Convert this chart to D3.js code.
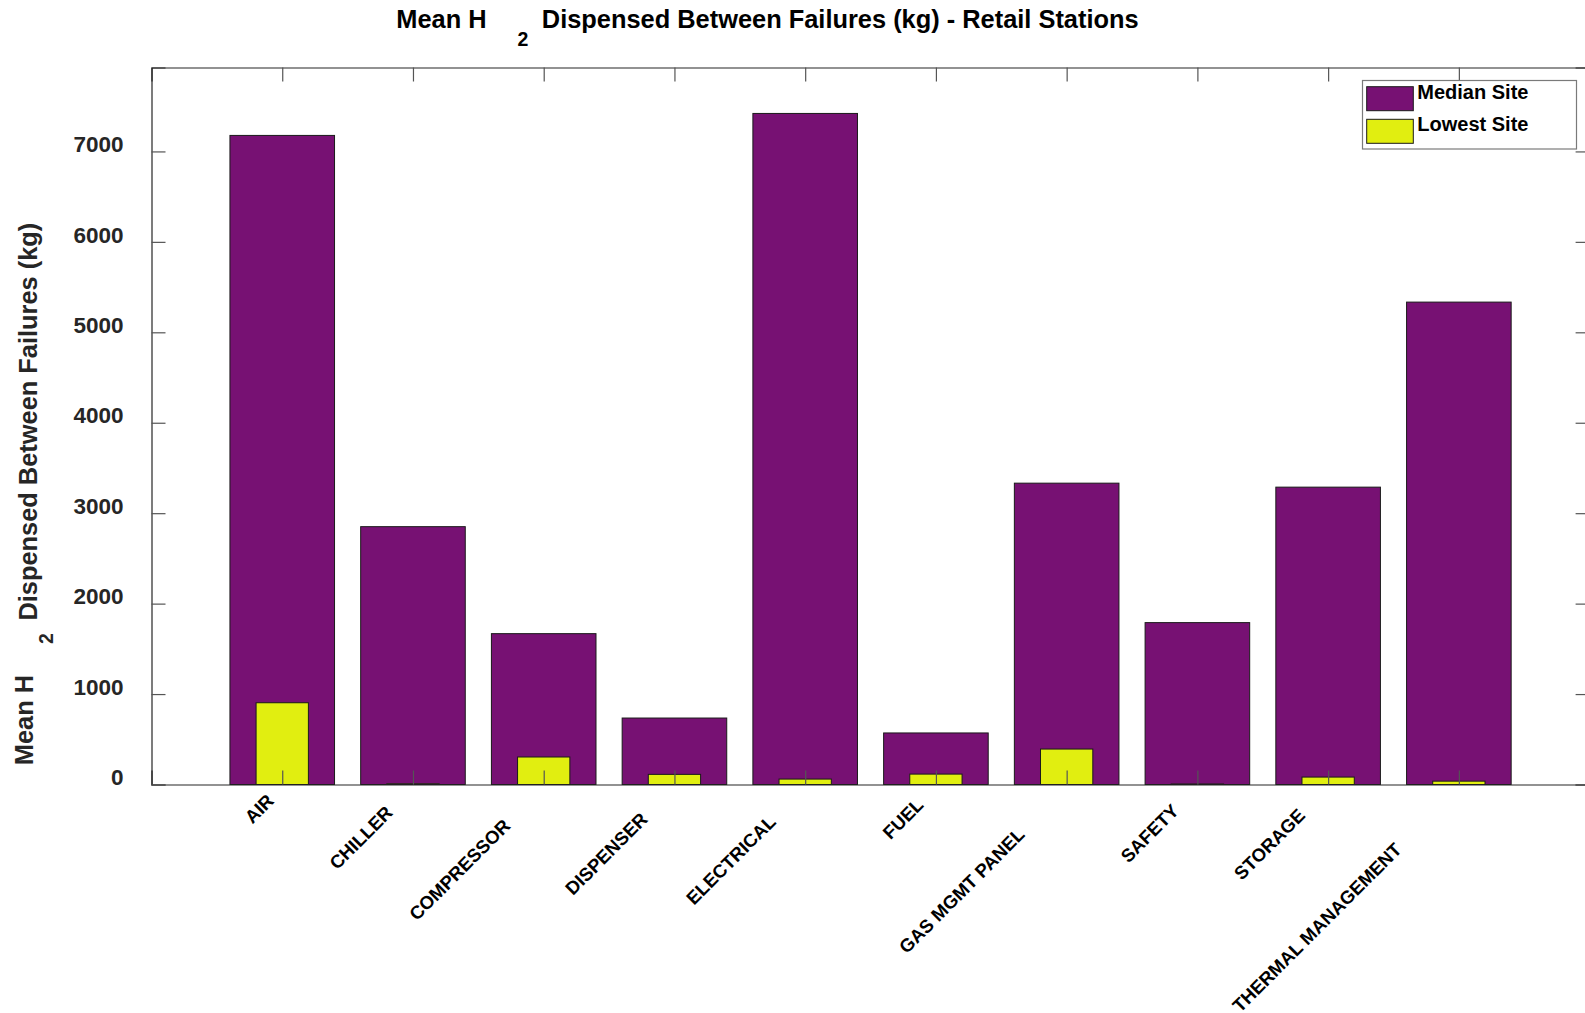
<!DOCTYPE html>
<html>
<head>
<meta charset="utf-8">
<script src="https://cdn.jsdelivr.net/npm/d3@7"></script>
<style>
  html, body { margin: 0; padding: 0; background: #fff; }
  svg { display: block; font-family: "Liberation Sans", Arial, Helvetica, sans-serif; }
</style>
</head>
<body>
<svg id="chart" width="1585" height="1013"></svg>
<script>
// ---- data ----
const categories = ["AIR", "CHILLER", "COMPRESSOR", "DISPENSER", "ELECTRICAL", "FUEL",
                    "GAS MGMT PANEL", "SAFETY", "STORAGE", "THERMAL MANAGEMENT"];
const medianSite = [7177, 2851, 1668, 735, 7420, 570, 3332, 1790, 3288, 5334];
const lowestSite = [904, 8, 304, 112, 60, 115, 392, 6, 82, 37];
const yTickValues = [0, 1000, 2000, 3000, 4000, 5000, 6000, 7000];
const seriesNames = ["Median Site", "Lowest Site"];
const seriesColors = ["#771173", "#e1ee10"];
const titleParts = ["Mean H", "2", "Dispensed Between Failures (kg) - Retail Stations"];
const yLabelParts = ["Mean H", "2", "Dispensed Between Failures (kg)"];

(function () {
// ---- layout ----
const mLeft = 151.5, mRight = 1589.6, mTop = 67.5, mBottom = 784.5;
const xDomain = [0, categories.length + 1];
const yDomain = [0, 7928];

const svg = d3.select("#chart");
const x = d3.scaleLinear().domain(xDomain).range([mLeft, mRight]);
const y = d3.scaleLinear().domain(yDomain).range([mBottom, mTop]);
const axisColor = "#262626";

const idx = categories.map((c, i) => i + 1);
const bw = (w) => x(w) - x(0);

// median bars
svg.append("g").selectAll("rect").data(medianSite).join("rect")
  .attr("x", (d, i) => x(idx[i] - 0.4))
  .attr("width", bw(0.8))
  .attr("y", d => y(d))
  .attr("height", d => y(0) - y(d))
  .attr("fill", seriesColors[0])
  .attr("stroke", "#1a1a1a").attr("stroke-width", 1);

// lowest bars
svg.append("g").selectAll("rect").data(lowestSite).join("rect")
  .attr("x", (d, i) => x(idx[i] - 0.2))
  .attr("width", bw(0.4))
  .attr("y", d => y(d))
  .attr("height", d => y(0) - y(d))
  .attr("fill", seriesColors[1])
  .attr("stroke", "#1a1a1a").attr("stroke-width", 1);

// axes
const tk = 14;
const gBottom = svg.append("g").attr("transform", `translate(0,${y(0)})`)
  .call(d3.axisBottom(x).tickValues(idx).tickSize(-tk).tickFormat(""));
const gTop = svg.append("g").attr("transform", `translate(0,${y(yDomain[1])})`)
  .call(d3.axisTop(x).tickValues(idx).tickSize(-tk).tickFormat(""));
const gLeft = svg.append("g").attr("transform", `translate(${x(0)},0)`)
  .call(d3.axisLeft(y).tickValues(yTickValues).tickSize(-tk).tickPadding(28).tickFormat(d3.format("d")));
const gRight = svg.append("g").attr("transform", `translate(${x(xDomain[1])},0)`)
  .call(d3.axisRight(y).tickValues(yTickValues).tickSize(-tk).tickFormat(""));

[gBottom, gTop, gLeft, gRight].forEach(g => {
  g.selectAll(".domain").attr("stroke", axisColor).attr("stroke-width", 1.2);
  g.selectAll(".tick line").attr("stroke", "#555").attr("stroke-width", 1.2);
});
gLeft.selectAll(".tick text")
  .attr("font-size", 22.5).attr("font-weight", "bold").attr("fill", "#262626")
  .attr("font-family", "Liberation Sans, Arial, sans-serif")
  .attr("y", -7);

// x tick labels (rotated)
const xl = svg.append("g");
categories.forEach((c, i) => {
  const t = xl.append("text")
    .text(c)
    .attr("font-size", 18.5).attr("font-weight", "bold").attr("fill", "#000")
    .attr("text-anchor", "middle").attr("dominant-baseline", "central");
  const L = t.node().getComputedTextLength();
  const cx = x(idx[i]) - 0.6 * L - 4;
  const cy = y(0) + 0.6 * L + 5;
  t.attr("transform", `translate(${cx},${cy}) rotate(-45)`);
});

// title
const title = svg.append("g").attr("font-weight", "bold").attr("fill", "#000");
title.append("text").attr("x", 396.3).attr("y", 28.3).attr("font-size", 25.4).text(titleParts[0]);
title.append("text").attr("x", 517.6).attr("y", 45.5).attr("font-size", 19.5).text(titleParts[1]);
title.append("text").attr("x", 541.8).attr("y", 28.3).attr("font-size", 25.4).text(titleParts[2]);

// y label
const yl = svg.append("g").attr("transform", "rotate(-90)")
  .attr("font-weight", "bold").attr("fill", "#262626");
yl.append("text").attr("x", -765.2).attr("y", 33).attr("font-size", 25.4).text(yLabelParts[0]);
yl.append("text").attr("x", -644).attr("y", 52.5).attr("font-size", 19.5).text(yLabelParts[1]);
yl.append("text").attr("x", -620.6).attr("y", 36.7).attr("font-size", 25.4).text(yLabelParts[2]);

// legend
const lg = svg.append("g");
lg.append("rect").attr("x", 1362.5).attr("y", 80.5).attr("width", 214).attr("height", 68.5)
  .attr("fill", "#fff").attr("stroke", "#7a7a7a").attr("stroke-width", 1.2);
seriesNames.forEach((n, i) => {
  const yy = 86.7 + i * 32.6;
  lg.append("rect").attr("x", 1366.7).attr("y", yy).attr("width", 46.6).attr("height", 24)
    .attr("fill", seriesColors[i]).attr("stroke", "#1a1a1a").attr("stroke-width", 1);
  lg.append("text").attr("x", 1417.3).attr("y", yy + 12).attr("font-size", 20)
    .attr("font-weight", "bold").attr("fill", "#000").text(n);
});
})();
</script>
</body>
</html>
